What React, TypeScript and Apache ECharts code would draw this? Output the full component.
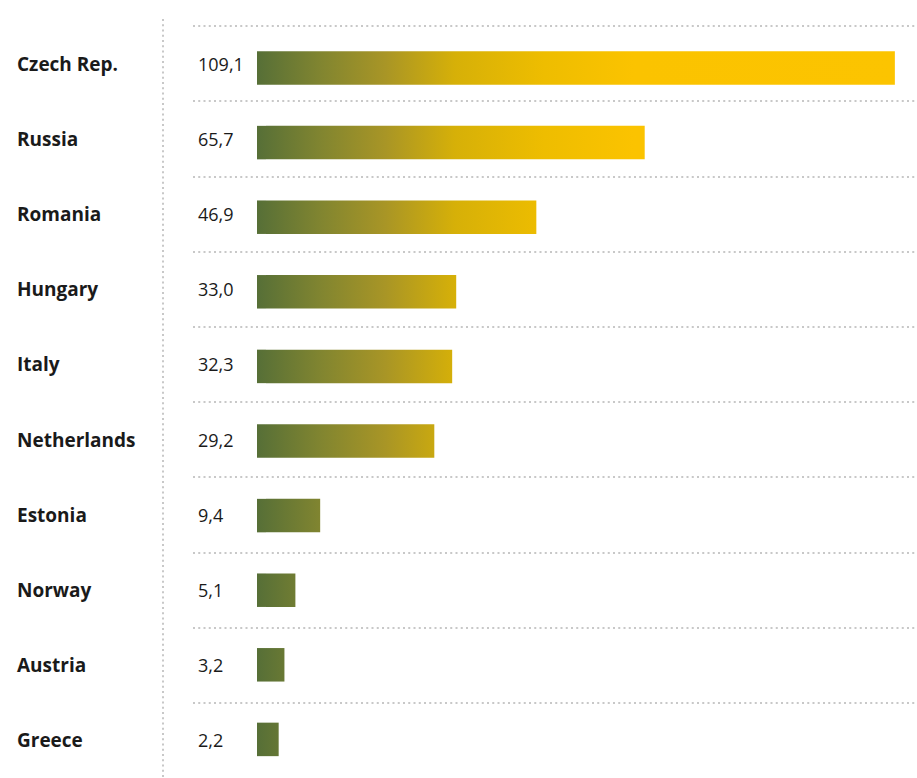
import { useEffect, useRef } from "react";
import * as echarts from "echarts";

const countries = [
  "Czech Rep.",
  "Russia",
  "Romania",
  "Hungary",
  "Italy",
  "Netherlands",
  "Estonia",
  "Norway",
  "Austria",
  "Greece",
];
const values = [109.1, 65.7, 46.9, 33.0, 32.3, 29.2, 9.4, 5.1, 3.2, 2.2];
const valueLabels = values.map((v) => v.toFixed(1).replace(".", ","));

export default function App() {
  const ref = useRef<HTMLDivElement>(null);
  useEffect(() => {
    const chart = echarts.init(ref.current!, null, { renderer: "svg" });
    const lead = 1.56;
    const grad = new echarts.graphic.LinearGradient(
      257,
      0,
      895,
      0,
      [
        { offset: 0, color: "#566f37" },
        { offset: 0.1, color: "#818530" },
        { offset: 0.2, color: "#a89526" },
        { offset: 0.31, color: "#d6b008" },
        { offset: 0.45, color: "#eebd00" },
        { offset: 0.59, color: "#fbc300" },
        { offset: 1, color: "#fcc400" },
      ],
      true
    );
    const dotted = { color: "#c8c8c8", width: 2, type: [2, 3.25] };
    const noAxisParts = {
      axisLine: { show: false },
      axisTick: { show: false },
      splitLine: { show: false },
    };
    chart.setOption({
      animation: false,
      grid: [
        { left: 257, right: 0, top: 30.7, height: 746 },
        { left: 193, right: 0, top: 26, height: 752.6 },
        { left: 257, right: 0, top: 26, height: 752.6 },
      ],
      xAxis: [
        { gridIndex: 0, type: "value", min: 0, max: 114.5, show: false },
        { gridIndex: 1, type: "value", min: 0, max: 1, show: false },
        { gridIndex: 2, type: "value", min: 0, max: 1, show: false },
      ],
      yAxis: [
        {
          gridIndex: 0,
          type: "category",
          data: countries,
          inverse: true,
          show: false,
        },
        {
          gridIndex: 1,
          type: "category",
          data: countries,
          inverse: true,
          axisLine: { show: false },
          axisTick: { show: false },
          axisLabel: { show: false },
          splitLine: {
            show: true,
            showMinLine: true,
            showMaxLine: false,
            lineStyle: dotted,
          },
        },
        {
          gridIndex: 2,
          type: "category",
          data: countries,
          inverse: true,
          position: "left",
          ...noAxisParts,
          axisLabel: {
            margin: 240,
            align: "left",
            fontFamily: "Open Sans",
            fontSize: 19,
            fontWeight: "bold",
            color: "#1a1a1a",
            padding: [3, 0, 0, 0],
          },
        },
        {
          gridIndex: 2,
          type: "category",
          data: countries,
          inverse: true,
          position: "left",
          offset: 0,
          ...noAxisParts,
          axisLabel: {
            margin: 59,
            align: "left",
            fontFamily: "Open Sans",
            fontSize: 18,
            color: "#1a1a1a",
            padding: [3, 0, 0, 0],
            formatter: (_v: string, i: number) => valueLabels[i],
          },
        },
      ],
      series: [
        {
          type: "bar",
          xAxisIndex: 0,
          yAxisIndex: 0,
          stack: "bars",
          silent: true,
          data: countries.map(() => lead),
          barWidth: 33.5,
          itemStyle: { color: grad },
        },
        {
          type: "bar",
          xAxisIndex: 0,
          yAxisIndex: 0,
          stack: "bars",
          data: values,
          barWidth: 33.5,
          itemStyle: { color: grad },
        },
      ],
      graphic: [
        {
          type: "line",
          shape: { x1: 163, y1: 19, x2: 163, y2: 778 },
          style: { stroke: "#c8c8c8", lineWidth: 2, lineDash: [2, 3.25] },
        },
      ],
    });
    return () => chart.dispose();
  }, []);
  return (
    <div
      ref={ref}
      style={{ position: "absolute", left: 0, top: 0, width: 917, height: 778 }}
    />
  );
}
